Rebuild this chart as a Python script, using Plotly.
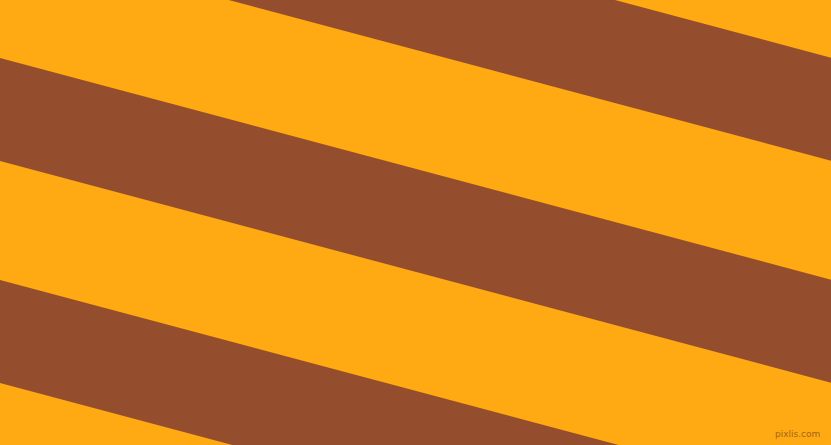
import plotly.graph_objects as go

# Chart size (matches the reference window)
width = 831
height = 445

# Stripe data: y where each brown band's edges cross x = 0, and the shared slope
band_top = [-164, 58, 280]
band_bottom = [-61, 161, 383]
slope = 0.2667

orange = '#FFA913'
brown = '#944E2D'

fig = go.Figure()

# One filled polygon per brown band
for top, bottom in zip(band_top, band_bottom):
    xs = [0, width, width, 0, 0]
    ys = [top, top + slope * width, bottom + slope * width, bottom, top]
    fig.add_trace(go.Scatter(x=xs, y=ys, mode='lines', fill='toself',
                             fillcolor=brown, line=dict(width=0),
                             hoverinfo='skip', showlegend=False))

# Watermark in the lower-right corner
fig.add_annotation(text='pixlis.com', x=1, y=0, xref='paper', yref='paper',
                   xanchor='right', yanchor='bottom', xshift=-9, yshift=4,
                   showarrow=False, font=dict(family='DejaVu Sans', size=9, color='#A0661C'))

fig.update_layout(width=width, height=height,
                  margin=dict(l=0, r=0, t=0, b=0),
                  paper_bgcolor=orange, plot_bgcolor=orange,
                  xaxis=dict(range=[0, width], visible=False, fixedrange=True),
                  yaxis=dict(range=[height, 0], visible=False, fixedrange=True))

# drop the browser's default page margin so the figure fills the window
fig.write_html('out.html', config={'displayModeBar': False},
               post_script="document.body.style.margin='0px';document.body.style.overflow='hidden';")
